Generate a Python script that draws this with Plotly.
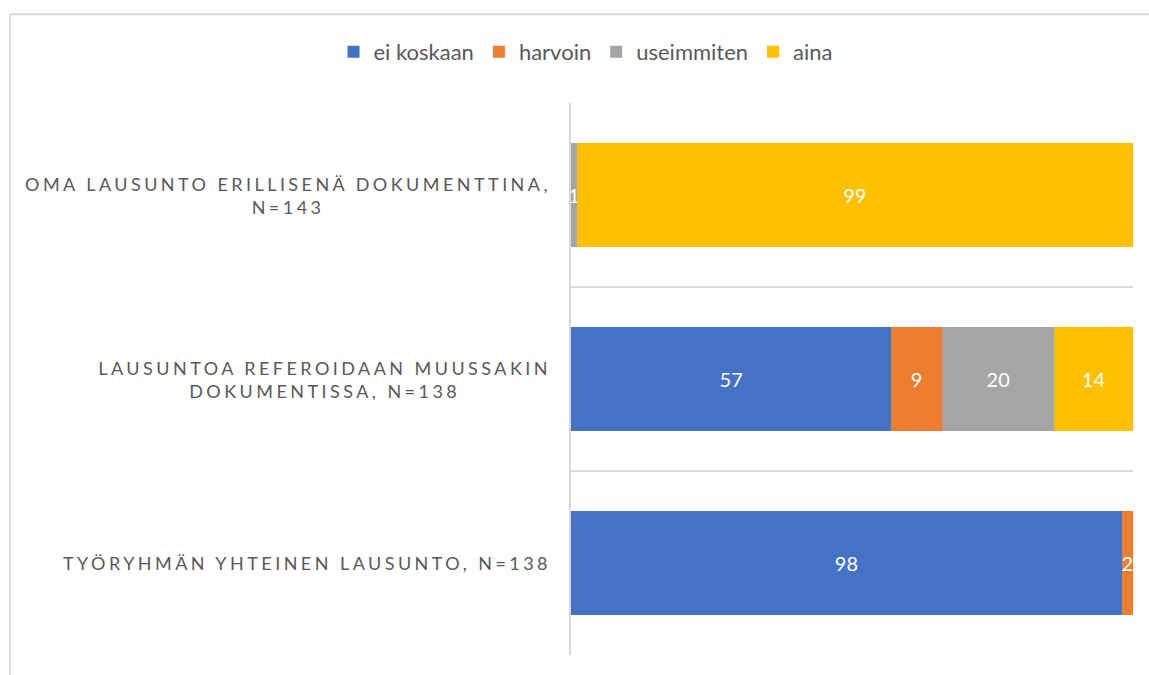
import plotly.graph_objects as go

# categories top to bottom
categories = [
    "OMA LAUSUNTO ERILLISENÄ DOKUMENTTINA, N=143",
    "LAUSUNTOA REFEROIDAAN MUUSSAKIN DOKUMENTISSA, N=138",
    "TYÖRYHMÄN YHTEINEN LAUSUNTO, N=138",
]
category_labels = [
    "OMA LAUSUNTO ERILLISENÄ DOKUMENTTINA,<br>N=143",
    "LAUSUNTOA REFEROIDAAN MUUSSAKIN<br>DOKUMENTISSA, N=138",
    "TYÖRYHMÄN YHTEINEN LAUSUNTO, N=138",
]

series_names = ["ei koskaan", "harvoin", "useimmiten", "aina"]
ei_koskaan = [0, 57, 98]
harvoin = [0, 9, 2]
useimmiten = [1, 20, 0]
aina = [99, 14, 0]

colors = ["#4472C4", "#ED7D31", "#A5A5A5", "#FFC000"]
FONT = "Lato, 'Open Sans', Arial"
GREY_TEXT = "#595959"
LINE = "#D9D9D9"

fig = go.Figure()
for name, vals, col in zip(series_names, [ei_koskaan, harvoin, useimmiten, aina], colors):
    fig.add_trace(
        go.Bar(
            name=name,
            y=categories,
            x=vals,
            orientation="h",
            marker=dict(color=col, line=dict(width=0)),
            text=[str(v) if v else "" for v in vals],
            textposition="inside",
            insidetextanchor="middle",
            constraintext="none",
            textfont=dict(color="white", size=20, family=FONT),
            cliponaxis=False,
            hoverinfo="skip",
        )
    )

# category labels as annotations so the two-line ones stay centred
annotations = []
for cat, lab in zip(categories, category_labels):
    annotations.append(
        dict(
            text=lab,
            x=0,
            xref="paper",
            xanchor="right",
            xshift=-23,
            y=cat,
            yref="y",
            yanchor="middle",
            align="center",
            showarrow=False,
            font=dict(size=18, color=GREY_TEXT, family=FONT),
        )
    )

fig.update_layout(
    width=1149,
    height=675,
    barmode="stack",
    bargap=0.44,
    margin=dict(l=571, r=16, t=103, b=20),
    paper_bgcolor="white",
    plot_bgcolor="white",
    font=dict(family=FONT, color=GREY_TEXT),
    legend=dict(
        orientation="h",
        xref="container",
        yref="container",
        x=0.51,
        xanchor="center",
        y=0.923,
        yanchor="middle",
        font=dict(size=22, color=GREY_TEXT, family=FONT),
        traceorder="normal",
        itemwidth=30,
    ),
    xaxis=dict(
        range=[0, 100],
        showticklabels=False,
        showgrid=False,
        zeroline=False,
        showline=False,
        fixedrange=True,
    ),
    yaxis=dict(
        type="category",
        autorange="reversed",
        tickson="boundaries",
        showgrid=True,
        gridcolor=LINE,
        gridwidth=2,
        showline=True,
        linecolor=LINE,
        linewidth=2,
        showticklabels=False,
        ticks="",
        fixedrange=True,
    ),
    annotations=annotations,
    # outer chart frame (left and top edges visible)
    shapes=[
        dict(
            type="rect",
            xref="paper",
            yref="paper",
            x0=-0.998,
            x1=1.2,
            y0=-0.3,
            y1=1.161,
            line=dict(color=LINE, width=2),
            fillcolor="rgba(0,0,0,0)",
            layer="below",
        )
    ],
)

# letter-spaced category labels, right edge kept 23 px left of the plot area
post_js = """
document.body.style.margin = '0';
var gd = document.getElementById('{plot_id}');
var left = gd.getBoundingClientRect().left + gd._fullLayout._size.l - 23;
gd.querySelectorAll('g.annotation').forEach(function(g) {
  var t = g.querySelector('text.annotation-text');
  if (!t) return;
  t.style.letterSpacing = '3.45px';
  var r = t.getBoundingClientRect();
  g.setAttribute('transform', 'translate(' + (left - r.right + 3) + ',0)');
});
"""

fig.write_html("out.html", post_script=post_js, config={"displayModeBar": False})
